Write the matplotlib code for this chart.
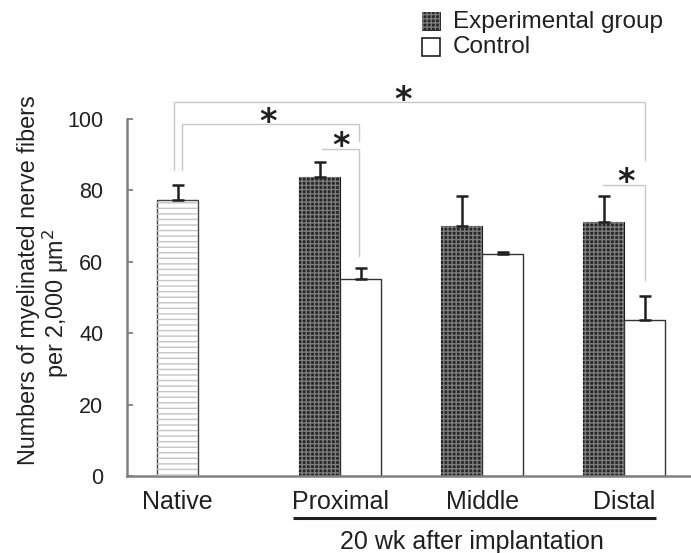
import matplotlib
matplotlib.use("Agg")
import matplotlib.pyplot as plt
from matplotlib.patches import Rectangle

plt.rcParams['font.family'] = ['Liberation Sans', 'DejaVu Sans']

# ---- data ----
categories = ["Native", "Proximal", "Middle", "Distal"]
native_mean = 77.3
native_err = 4.3
exp_mean = [83.7, 70.0, 71.1]
exp_err = [4.2, 8.4, 7.3]
ctrl_mean = [55.3, 62.1, 43.8]
ctrl_err = [3.1, 0.6, 6.5]
yticks = [0, 20, 40, 60, 80, 100]
legend_labels = ["Experimental group", "Control"]
ylabel_line1 = "Numbers of myelinated nerve fibers"
ylabel_line2 = "per 2,000 \u03bcm$^2$"
group_label = "20 wk after implantation"

W, H = 691, 553
fig = plt.figure(figsize=(W / 100, H / 100), dpi=100)
ax = fig.add_axes([127 / W, 1 - 476 / H, 1 - 127 / W, (476 - 119) / H])

bw = 0.289
dark = '#231f20'
gray_axis = '#808080'
exp_face = '#262626'
exp_hatch = '#7c7c7c'

# Native bar
xn = 0 - bw / 2
ax.bar(xn, native_mean, bw, color='white', edgecolor='#444444', linewidth=1.0, zorder=2)
ax.bar(xn, native_mean, bw, color='none', edgecolor='#c4c4c4', linewidth=0, hatch='---', zorder=3)
ax.errorbar(xn, native_mean, yerr=[[0], [native_err]], fmt='none', ecolor=dark,
            elinewidth=1.8, capsize=4.3, capthick=1.8, zorder=4)

xs = [1, 2, 3]
xe = [x - bw / 2 for x in xs]
xc = [x + bw / 2 for x in xs]
ax.bar(xe, exp_mean, bw, color=exp_face, edgecolor='#1a1a1a', linewidth=0.8, zorder=2)
ax.bar(xe, exp_mean, bw, color='none', edgecolor=exp_hatch, linewidth=0, hatch='++++', zorder=3)
ax.bar(xc, ctrl_mean, bw, color='white', edgecolor='#333333', linewidth=1.0, zorder=2)
ax.errorbar(xe, exp_mean, yerr=[[0] * 3, exp_err], fmt='none', ecolor=dark,
            elinewidth=1.8, capsize=4.3, capthick=1.8, zorder=4)
ax.errorbar(xc, ctrl_mean, yerr=[[0] * 3, ctrl_err], fmt='none', ecolor=dark,
            elinewidth=1.8, capsize=4.3, capthick=1.8, zorder=4)

ax.set_xlim(-0.5, 3.47)
ax.set_ylim(0, 100)
ax.set_yticks(yticks)
ax.set_xticks([xn] + xs)
ax.set_xticklabels(categories)
for s in ['top', 'right']:
    ax.spines[s].set_visible(False)
for s in ['left', 'bottom']:
    ax.spines[s].set_color(gray_axis)
    ax.spines[s].set_linewidth(1.8)
ax.tick_params(axis='y', direction='in', length=4.3, width=1.3, color=gray_axis,
               labelsize=15.5, pad=17, labelcolor=dark)
ax.tick_params(axis='x', length=0, labelsize=18, pad=10, labelcolor=dark)
ax.patch.set_visible(False)

# significance brackets
bc = '#c8c8c8'
blw = 1.0
def bracket(pts):
    ax.plot([p[0] for p in pts], [p[1] for p in pts], color=bc, lw=blw, zorder=1,
            clip_on=False, solid_joinstyle='miter')

bracket([(-0.169, 85.7), (-0.169, 104.8), (3.148, 104.8), (3.148, 88.5)])
bracket([(-0.113, 85.7), (-0.113, 98.6), (1.134, 98.6), (1.134, 93.8)])
bracket([(0.873, 91.6), (1.134, 91.6), (1.134, 61.6)])
bracket([(2.852, 81.5), (3.148, 81.5), (3.148, 54.9)])

star_kw = dict(ha='center', va='center', fontsize=24, color=dark, fontweight='bold',
               family='DejaVu Sans', clip_on=False)
ax.text(1.44, 105.2, '*', **star_kw)
ax.text(0.49, 99.0, '*', **star_kw)
ax.text(1.007, 92.2, '*', **star_kw)
ax.text(3.01, 82.2, '*', **star_kw)

# group underline and label
ax.plot([0.669, 3.225], [-11.8, -11.8], color=dark, lw=2.2, clip_on=False,
        solid_capstyle='butt')
ax.text(1.93, -18.6, group_label, ha='center', va='center', fontsize=18, color=dark,
        clip_on=False)

# y label (two lines)
fig.text(29 / W, 1 - 280 / H, ylabel_line1, rotation=90, ha='center', va='center',
         fontsize=16.8, color=dark)
fig.text(56 / W, 1 - 303 / H, ylabel_line2, rotation=90, ha='center', va='center',
         fontsize=16.8, color=dark)

# legend
sq = 18
r1 = Rectangle((422 / W, 1 - 30 / H), sq / W, sq / H, transform=fig.transFigure,
               facecolor=exp_face, edgecolor='#1a1a1a', lw=0.6)
r1h = Rectangle((422 / W, 1 - 30 / H), sq / W, sq / H, transform=fig.transFigure,
                facecolor='none', edgecolor=exp_hatch, lw=0, hatch='++++')
r2 = Rectangle((422 / W, 1 - 56 / H), sq / W, sq / H, transform=fig.transFigure,
               facecolor='white', edgecolor=dark, lw=1.2)
for r in (r1, r1h, r2):
    fig.add_artist(r)
fig.text(453 / W, 1 - 22 / H, legend_labels[0], ha='left', va='center', fontsize=17.5, color=dark)
fig.text(453 / W, 1 - 47 / H, legend_labels[1], ha='left', va='center', fontsize=17.5, color=dark)

fig.savefig('out.png', dpi=100)
